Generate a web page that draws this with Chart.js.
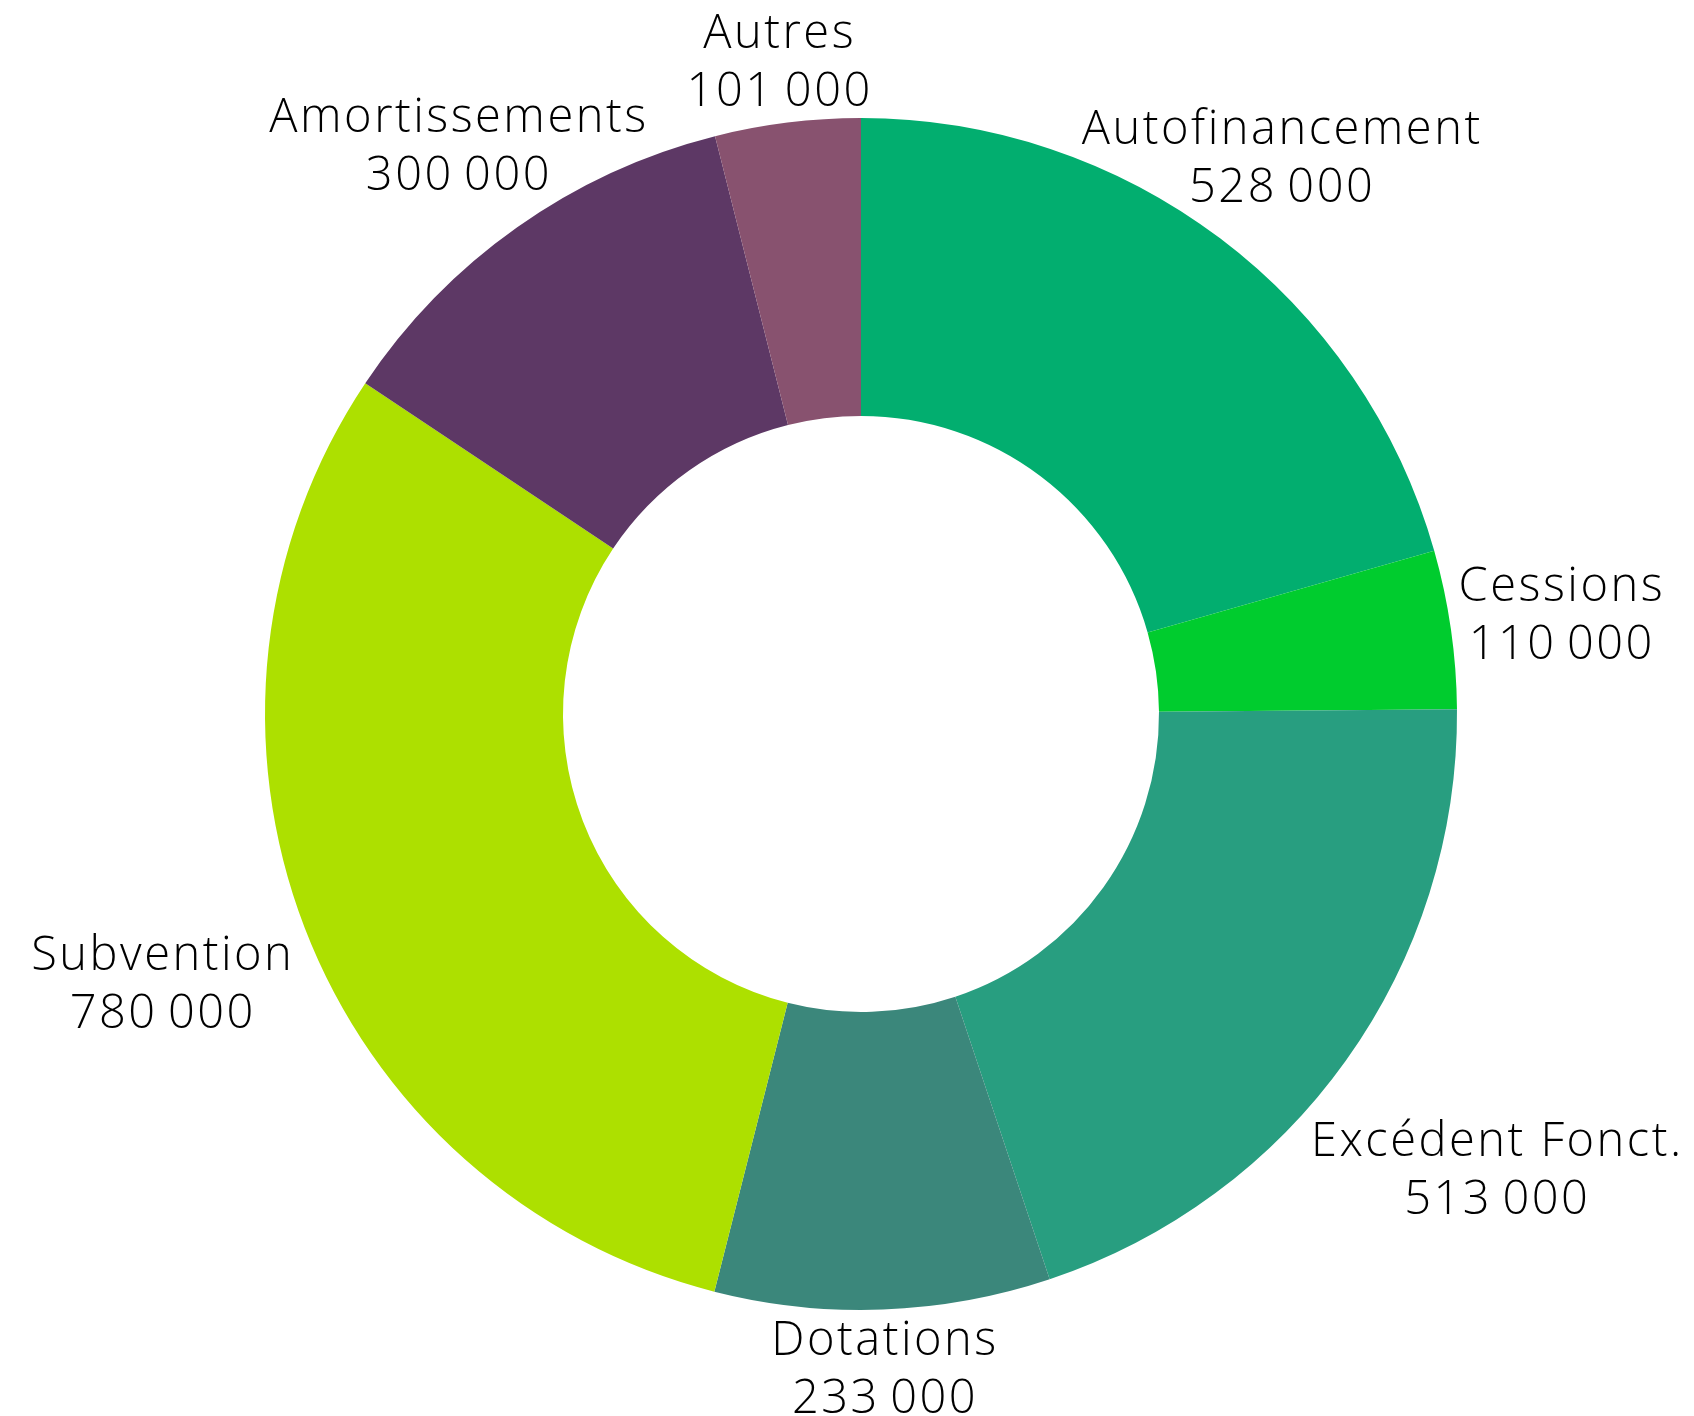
<!DOCTYPE html>
<html>
<head>
<meta charset="utf-8">
<script src="https://cdn.jsdelivr.net/npm/chart.js@4.4.0/dist/chart.umd.min.js"></script>
<style>
  html, body { margin: 0; padding: 0; background: #fff; }
  #wrap { width: 1694px; height: 1416px; position: relative; }
</style>
</head>
<body>
<div id="wrap"><canvas id="chartRessources"></canvas></div>
<script>
// Données du graphique
var categories = ["Autofinancement", "Cessions", "Excédent Fonct.", "Dotations", "Subvention", "Amortissements", "Autres"];
var values = [528000, 110000, 513000, 233000, 780000, 300000, 101000];
var colors = ["#02AE6F", "#00CC2E", "#289E80", "#3B877B", "#ADE000", "#5D3865", "#88526F"];

function fmt(v) {
  return String(v).replace(/\B(?=(\d{3})+(?!\d))/g, "\u2009");
}

// Étiquettes à l'extérieur de l'anneau
var outsideLabels = {
  id: "outsideLabels",
  afterDatasetsDraw: function (chart) {
    var ctx = chart.ctx;
    var meta = chart.getDatasetMeta(0);
    var capH = 33, lineGap = 58, pad = 12;
    ctx.save();
    ctx.font = "300 47px 'Open Sans'";
    ctx.letterSpacing = "2.5px";
    ctx.fillStyle = "#000";
    ctx.textAlign = "center";
    ctx.textBaseline = "alphabetic";
    meta.data.forEach(function (arc, i) {
      var p = arc.getProps(["x", "y", "startAngle", "endAngle", "outerRadius"], true);
      var mid = (p.startAngle + p.endAngle) / 2;
      var ux = Math.cos(mid), uy = Math.sin(mid);
      var lines = [categories[i], fmt(values[i])];
      var widths = lines.map(function (t) { return ctx.measureText(t).width; });
      var blockH = lineGap + capH;
      var d, cx, cy, top;
      for (d = p.outerRadius; d < p.outerRadius + 400; d += 1) {
        cx = p.x + ux * d;
        cy = p.y + uy * d;
        top = cy - blockH / 2;
        var ok = true;
        for (var k = 0; k < lines.length; k++) {
          var t = top + k * lineGap, b = t + capH;
          var l = cx - widths[k] / 2, r = cx + widths[k] / 2;
          var nx = Math.max(l, Math.min(p.x, r));
          var ny = Math.max(t, Math.min(p.y, b));
          if (Math.hypot(nx - p.x, ny - p.y) < p.outerRadius + pad) { ok = false; break; }
        }
        if (ok) break;
      }
      lines.forEach(function (txt, k) {
        ctx.fillText(txt, cx, top + k * lineGap + capH);
      });
    });
    ctx.restore();
  }
};

var ctxRessources = document.getElementById("chartRessources").getContext("2d");

new Chart(ctxRessources, {
  type: "doughnut",
  data: {
    labels: categories,
    datasets: [
      {
        data: values,
        backgroundColor: colors,
        borderWidth: 0,
      },
    ],
  },
  options: {
    responsive: true,
    maintainAspectRatio: false,
    animation: false,
    cutout: "50%",
    layout: {
      padding: { left: 265, right: 237, top: 118, bottom: 106 },
    },
    plugins: {
      legend: { display: false },
      tooltip: { enabled: false },
    },
  },
  plugins: [outsideLabels],
});
</script>
</body>
</html>
